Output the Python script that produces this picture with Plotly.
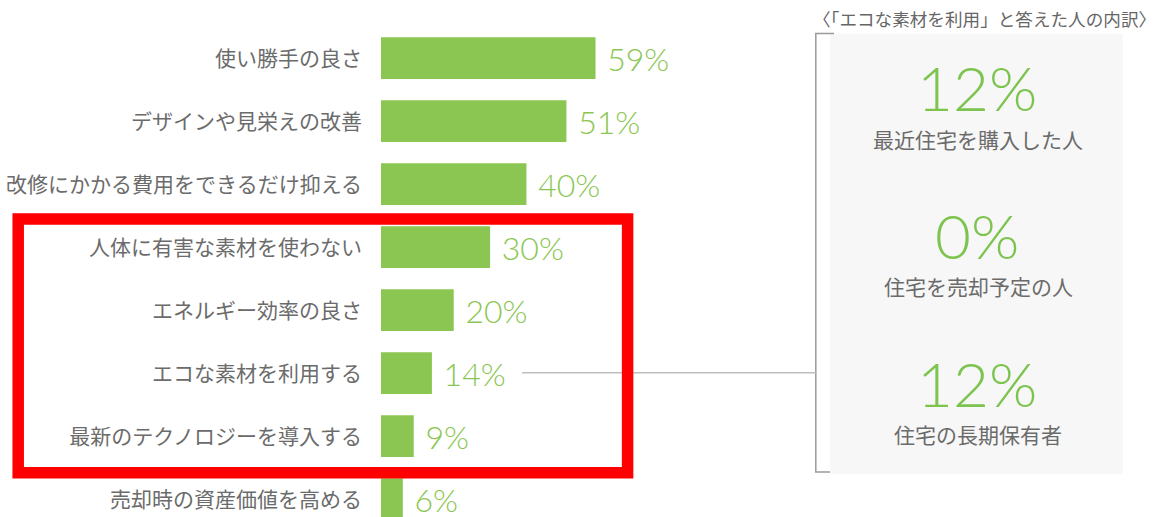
import plotly.graph_objects as go

# ---- data ----
categories = [
    "使い勝手の良さ",
    "デザインや見栄えの改善",
    "改修にかかる費用をできるだけ抑える",
    "人体に有害な素材を使わない",
    "エネルギー効率の良さ",
    "エコな素材を利用する",
    "最新のテクノロジーを導入する",
    "売却時の資産価値を高める",
]
values = [59, 51, 40, 30, 20, 14, 9, 6]

panel_title = "〈「エコな素材を利用」と答えた人の内訳〉"
breakdown_labels = ["最近住宅を購入した人", "住宅を売却予定の人", "住宅の長期保有者"]
breakdown_values = [12, 0, 12]

# ---- styling ----
W, H = 1164, 517
L_MARGIN = 381
PLOT_W = W - L_MARGIN
PX_PER_PCT = 3.636
GREEN = "#8BC652"
GRAY_TXT = "#6b6b6b"
JP = "Noto Sans CJK JP"
NUM_FONT = "Lato"


def px(x):
    return (x - L_MARGIN) / PLOT_W


def py(y):
    return 1 - y / H


fig = go.Figure()
fig.add_trace(go.Bar(
    y=categories,
    x=values,
    orientation="h",
    marker=dict(color=GREEN, line=dict(width=0)),
    text=[f" {v}%" for v in values],
    textposition="outside",
    constraintext="none",
    cliponaxis=False,
    textfont=dict(family=NUM_FONT, size=32, color=GREEN, weight=300),
    hoverinfo="skip",
))

shapes = [
    # grey panel background
    dict(type="rect", xref="paper", yref="paper",
         x0=px(830), x1=px(1122.7), y0=py(34), y1=py(474.3),
         fillcolor="#f7f7f7", line=dict(width=0), layer="below"),
    # bracket
    dict(type="path", xref="paper", yref="paper",
         path=f"M {px(834)},{py(33.5)} L {px(815.8)},{py(33.5)} L {px(815.8)},{py(472)} L {px(830)},{py(472)}",
         line=dict(color="#9a9a9a", width=1.5)),
    # connector
    dict(type="line", xref="paper", yref="paper",
         x0=px(522), x1=px(815.8), y0=py(372.8), y1=py(372.8),
         line=dict(color="#bdbdbd", width=1.6)),
    # red highlight frame
    dict(type="rect", xref="paper", yref="paper",
         x0=px(18.2), x1=px(627.6), y0=py(219.1), y1=py(472.8),
         line=dict(color="#ff0000", width=11.5), fillcolor="rgba(0,0,0,0)"),
]

annotations = [
    dict(text=panel_title, xref="paper", yref="paper",
         x=px(984), y=py(18.5), xanchor="center", yanchor="middle",
         showarrow=False, font=dict(family=JP, size=17.6, color="#666666")),
]
num_y = [85, 233, 381]
lab_y = [139, 286, 434]
for v, lab, ny, ly in zip(breakdown_values, breakdown_labels, num_y, lab_y):
    annotations.append(dict(
        text=f"{v}%", xref="paper", yref="paper", x=px(977), y=py(ny + 2),
        xanchor="center", yanchor="middle", showarrow=False,
        font=dict(family=NUM_FONT, size=62, color="#7cc44e", weight=300)))
    annotations.append(dict(
        text=lab, xref="paper", yref="paper", x=px(978), y=py(ly),
        xanchor="center", yanchor="middle", showarrow=False,
        font=dict(family=JP, size=21, color=GRAY_TXT)))

fig.update_layout(
    width=W, height=H,
    margin=dict(l=L_MARGIN, r=0, t=0, b=0, pad=0),
    paper_bgcolor="white", plot_bgcolor="white",
    showlegend=False,
    bargap=0.338,
    shapes=shapes,
    annotations=annotations,
    xaxis=dict(range=[0, PLOT_W / PX_PER_PCT], visible=False, fixedrange=True),
    yaxis=dict(
        type="category",
        categoryorder="array", categoryarray=categories,
        range=[(H - 58.2) / 63.0, -58.2 / 63.0],
        showgrid=False, zeroline=False, showline=False,
        ticks="", ticklabelstandoff=18,
        tickfont=dict(family=JP, size=21, color=GRAY_TXT),
        automargin=False, fixedrange=True,
    ),
)

fig.write_html("out.html")
